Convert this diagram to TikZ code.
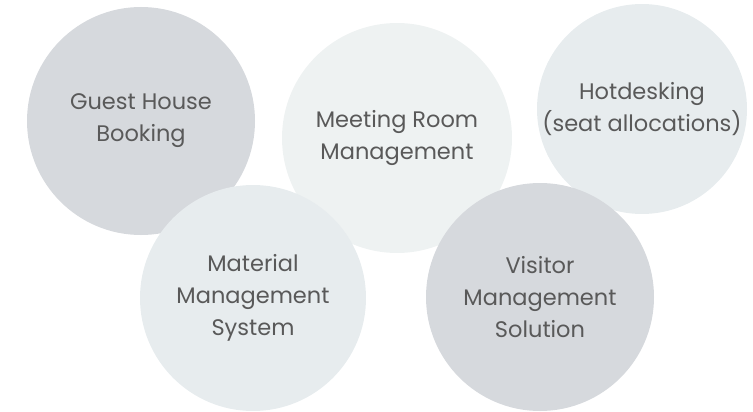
\documentclass[tikz,border=0pt]{standalone}
\usepackage{fontspec}
\setmainfont{Poppins}
\usetikzlibrary{positioning}

\definecolor{bubbledark}{HTML}{D6D9DD}
\definecolor{bubblemid}{HTML}{E7ECEE}
\definecolor{bubblelight}{HTML}{EEF2F2}
\definecolor{bubbletext}{HTML}{595959}

\begin{document}
\begin{tikzpicture}[
    x=1pt, y=-1pt,
    font=\fontsize{22.5}{32}\selectfont,
    bubble/.style={circle, draw=none, inner sep=0pt, text=bubbletext, align=center},
    dark/.style  ={bubble, fill=bubbledark},
    mid/.style   ={bubble, fill=bubblemid},
    light/.style ={bubble, fill=bubblelight},
]
\useasboundingbox (0,0) rectangle (753,412);
\node[dark,  minimum size=228pt] (guest)   at (141,121) {Guest House\\ Booking};
\node[light, minimum size=230pt] (meeting) at (397,138) {Meeting Room\\ Management};
\node[mid,   minimum size=210pt] (hot)     at (642,109) {Hotdesking\\ (seat allocations)};
\node[mid,   minimum size=226pt] (mat)     at (253,298) {Material\\ Management\\ System};
\node[dark,  minimum size=228pt] (visitor) at (540,297) {Visitor\\ Management\\ Solution};
\end{tikzpicture}
\end{document}
